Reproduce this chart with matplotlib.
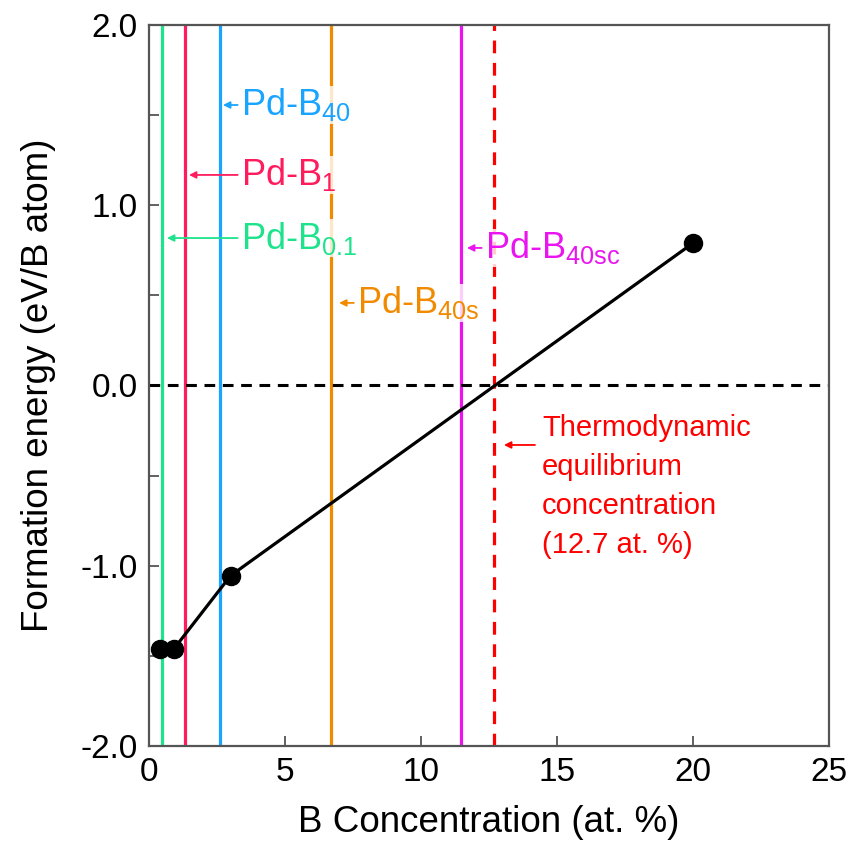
import matplotlib
matplotlib.use('Agg')
import matplotlib.pyplot as plt

plt.rcParams['font.family'] = ['Liberation Sans', 'DejaVu Sans']
plt.rcParams['mathtext.fontset'] = 'custom'
plt.rcParams['mathtext.rm'] = 'Liberation Sans'
plt.rcParams['mathtext.default'] = 'regular'

# formation energy vs B concentration
conc = [0.4, 0.92, 3.0, 20.0]
energy = [-1.46, -1.46, -1.055, 0.79]

# vertical markers for each sample
line_names = ['Pd-B$_{0.1}$', 'Pd-B$_1$', 'Pd-B$_{40}$', 'Pd-B$_{40s}$', 'Pd-B$_{40sc}$']
line_x = [0.49, 1.32, 2.61, 6.7, 11.47]
line_colors = ['#1ee38c', '#ff1c5c', '#18a4ff', '#f28a00', '#ea14f0']
label_x = [3.38, 3.38, 3.38, 7.65, 12.35]
label_y = [0.818, 1.168, 1.556, 0.458, 0.763]
arrow_tip = [0.66, 1.47, 2.72, 6.99, 11.69]

eq_x = 12.7
eq_text = 'Thermodynamic\nequilibrium\nconcentration\n(12.7 at. %)'

xticks = [0, 5, 10, 15, 20, 25]
yticks = [-2, -1, 0, 1, 2]
ytick_labels = ['-2.0', '-1.0', '0.0', '1.0', '2.0']

fig = plt.figure(figsize=(8.48, 8.52), dpi=100)
ax = fig.add_axes([0.1757, 0.1244, 0.8019, 0.8463])

for x, c in zip(line_x, line_colors):
    ax.axvline(x, color=c, lw=2.3, zorder=2)
ax.axvline(eq_x, color='#ff0000', lw=2.3, ls=(0, (4, 3)), zorder=2)
ax.axhline(0, color='black', lw=2.2, ls=(0, (3.5, 2.5)), zorder=2)

ax.plot(conc, energy, color='black', lw=2.3, marker='o', ms=13, zorder=5)

for name, x, y, tip, c in zip(line_names, label_x, label_y, arrow_tip, line_colors):
    ax.text(x, y, name, color=c, fontsize=26, ha='left', va='center', zorder=4,
            bbox=dict(facecolor='white', edgecolor='none', alpha=0.8, pad=0.5))
    ax.annotate('', xy=(tip, y), xytext=(x - 0.12, y),
                arrowprops=dict(arrowstyle='-|>', color=c, lw=1.3,
                                mutation_scale=10, shrinkA=0, shrinkB=0), zorder=4)

ax.text(14.45, -0.16, eq_text, color='#ff0000', fontsize=21, ha='left', va='top',
        linespacing=1.5, zorder=4)
ax.annotate('', xy=(13.05, -0.33), xytext=(14.19, -0.33),
            arrowprops=dict(arrowstyle='-|>', color='#ff0000', lw=1.3,
                            mutation_scale=10, shrinkA=0, shrinkB=0), zorder=4)

ax.set_xlim(0, 25)
ax.set_ylim(-2, 2)
ax.set_xticks(xticks)
ax.set_yticks(yticks)
ax.set_yticklabels(ytick_labels)
ax.set_yticks([-1.5, -0.5, 0.5, 1.5], minor=True)
ax.tick_params(which='both', direction='in', length=7, width=1.3, color='#555555',
               labelsize=24, pad=8)
for s in ax.spines.values():
    s.set_color('#555555')
    s.set_linewidth(1.6)

ax.set_xlabel('B Concentration (at. %)', fontsize=26.5, labelpad=12)
ax.set_ylabel('Formation energy (eV/B atom)', fontsize=26.5, labelpad=18)

fig.savefig('out.png', dpi=100)
